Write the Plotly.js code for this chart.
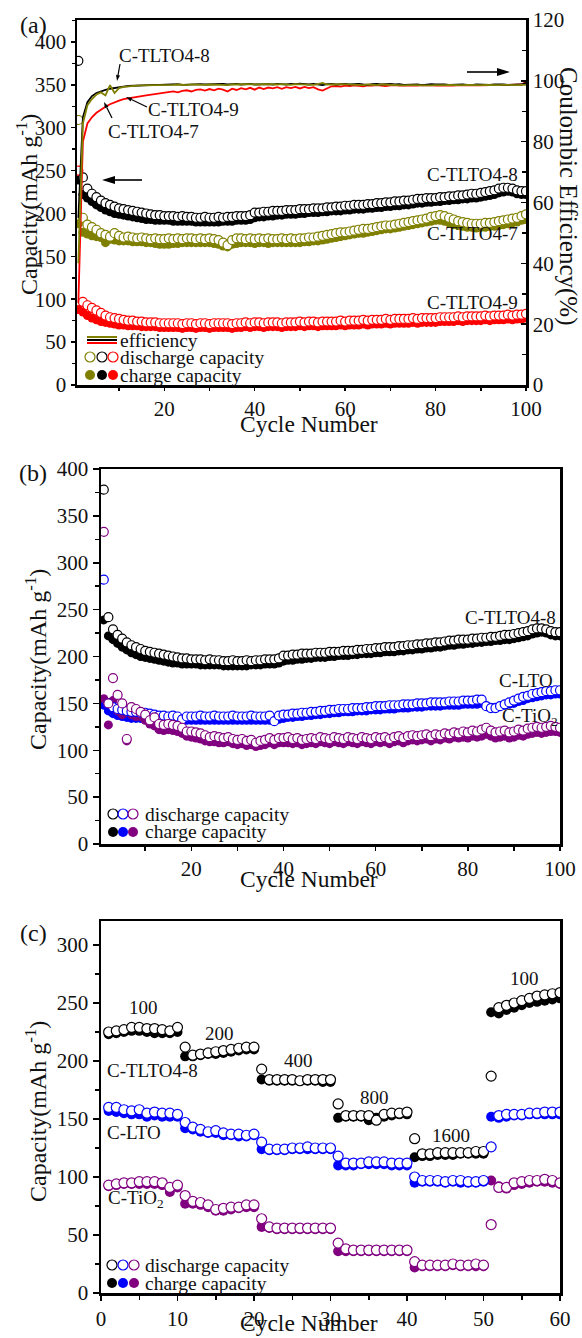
<!DOCTYPE html>
<html><head><meta charset="utf-8">
<script src="https://cdn.plot.ly/plotly-3.0.1.min.js"></script>
<style>html,body{margin:0;padding:0;background:#fff;}#chart{width:582px;height:1338px;}</style>
</head><body><div id="chart"></div>
<script>
// ---------- DATA ----------
const cycles100 = [1,2,3,4,5,6,7,8,9,10,11,12,13,14,15,16,17,18,19,20,
21,22,23,24,25,26,27,28,29,30,31,32,33,34,35,36,37,38,39,40,
41,42,43,44,45,46,47,48,49,50,51,52,53,54,55,56,57,58,59,60,
61,62,63,64,65,66,67,68,69,70,71,72,73,74,75,76,77,78,79,80,
81,82,83,84,85,86,87,88,89,90,91,92,93,94,95,96,97,98,99,100];
const cycles60 = [1,2,3,4,5,6,7,8,9,10,11,12,13,14,15,16,17,18,19,20,
21,22,23,24,25,26,27,28,29,30,31,32,33,34,35,36,37,38,39,40,
41,42,43,44,45,46,47,48,49,50,51,52,53,54,55,56,57,58,59,60];

// C-TLTO4-8 (panels a and b)
const dis_TLTO48 = [378,242,229,223,219,215,212,210,208,206,
205,204,203,202,201,200,199,198,198,197,
197,197,196,197,196,196,195,195,196,195,
195,196,195,196,196,197,197,197,198,201,
201,202,202,203,203,203,204,204,204,205,
205,205,206,206,206,207,207,208,208,209,
209,210,210,210,211,211,212,212,213,213,
214,214,215,215,216,217,217,218,218,218,
219,219,220,220,221,221,222,223,223,224,
225,226,227,229,230,230,229,227,226,226];
const chg_TLTO48 = [239,222,218,214,210,207,204,202,200,199,
198,197,196,195,194,193,193,192,192,192,
192,191,191,191,191,191,190,190,190,190,
190,190,191,191,191,192,192,192,193,195,
196,196,197,197,198,198,199,199,199,200,
200,201,201,201,202,202,203,203,203,204,
204,205,205,205,206,206,207,207,208,208,
209,209,210,210,211,212,212,213,213,214,
214,215,215,216,216,217,217,218,218,219,
220,221,222,224,225,226,225,223,222,222];
// C-TLTO4-7
const dis_TLTO47 = [309,195,187,184,181,177,175,173,177,174,
172,173,172,171,172,171,170,171,170,170,
171,170,171,170,171,171,170,171,170,171,
170,169,166,163,169,171,171,170,171,170,
171,170,171,170,170,171,170,171,170,171,
171,172,172,173,174,175,176,177,178,178,
179,180,181,182,182,183,184,185,186,186,
187,188,189,190,191,192,193,194,196,197,
198,197,195,193,191,190,189,188,188,188,
189,189,190,191,192,193,194,195,197,199];
const chg_TLTO47 = [188,178,176,174,173,172,166,170,169,168,
168,168,167,167,167,166,166,165,164,164,
164,165,165,166,166,166,166,166,166,166,
165,164,162,161,164,165,166,166,166,165,
166,166,165,166,166,166,166,166,166,166,
167,167,168,168,169,170,171,172,173,174,
175,176,177,177,178,179,180,181,182,182,
183,184,185,186,187,188,189,190,191,192,
192,191,189,187,186,185,184,184,183,184,
184,185,185,186,187,188,189,190,192,193];
// C-TLTO4-9
const dis_TLTO49 = [250,97,93,90,87,84,81,79,78,77,
76,75,75,74,74,73,73,73,72,72,
72,72,72,71,72,72,71,72,72,71,
72,72,72,72,71,72,72,73,72,73,
73,72,73,73,73,72,73,73,73,74,
73,74,74,73,74,74,74,74,75,74,
75,75,75,76,75,76,76,76,77,76,
77,77,77,77,78,77,78,78,78,78,
79,79,79,79,80,79,80,80,80,80,
81,80,81,81,81,82,81,82,82,83];
const chg_TLTO49 = [88,85,81,78,76,74,73,72,71,70,
70,69,69,69,68,68,68,68,67,67,
67,67,67,66,67,67,66,67,67,66,
67,67,67,67,66,67,67,68,67,68,
68,67,68,68,68,67,68,68,68,69,
68,69,69,68,69,69,69,69,70,69,
70,70,70,71,70,71,71,71,72,71,
72,72,72,72,73,72,73,73,73,73,
74,74,74,74,75,74,75,75,75,75,
76,75,76,76,76,77,76,77,77,78];
// Coulombic efficiency (%)
const eff_TLTO48 = [55,88,93,95,96,96.6,97,97.4,97.7,98,
98.1,98.3,98.4,98.5,98.5,98.6,98.6,98.7,98.7,98.8,
98.7,98.8,98.9,98.7,98.8,98.9,98.8,98.9,98.8,98.9,
98.8,98.9,99,98.8,98.9,99,98.8,98.9,99,98.8,
98.9,99,98.9,98.8,99,98.9,98.8,99,98.9,99.1,
98.9,98.8,99,98.9,98.6,98.9,99,98.8,98.9,99,
98.8,98.9,99,98.8,98.7,98.9,99,98.8,98.9,99,
98.8,98.9,98.7,98.8,98.9,98.8,98.6,98.8,98.9,98.8,
98.9,98.8,98.7,98.8,98.9,98.8,98.7,98.6,98.8,98.7,
98.8,98.7,98.8,98.9,98.8,98.7,98.8,98.9,98.8,99.3];
const eff_TLTO47 = [40,86,92,94,95.5,96.2,95.2,98.6,96,97.6,
98,98.2,98.3,98.4,98.5,98.5,98.6,98.6,98.7,98.7,
98.6,98.7,98.8,98.7,98.6,98.8,98.7,98.8,98.7,98.8,
98.7,98.8,98.7,98.6,98.8,98.7,98.8,98.9,98.8,98.7,
98.8,98.9,98.8,98.7,98.8,98.9,98.8,98.7,98.9,98.8,
98.9,98.8,98.7,98.9,99.3,98.8,98.7,98.8,98.9,98.8,
98.7,98.8,98.7,98.6,98.8,98.7,98.6,98.8,98.7,98.6,
98.7,98.6,98.5,98.6,98.7,98.6,98.5,98.4,98.5,98.6,
98.5,98.6,98.7,98.6,98.5,98.6,98.7,98.6,98.5,98.6,
98.7,98.6,98.7,98.6,98.7,98.6,98.7,98.6,98.7,98.7];
const eff_TLTO49 = [27,80,86,88,89.5,90.6,91.5,92.3,93,93.5,
94,94.3,94.6,94.8,95,95.2,95.4,95.6,95.8,96,
96.3,96.5,96.2,96.7,96.9,96.5,97,97.2,96.8,97.3,
96.9,97.4,97.1,96.5,97.4,97,97.6,97.2,97.7,97.1,
97.8,97.3,97.8,97.5,97.9,97.4,97.9,97.6,98,97.5,
98,97.6,97.9,97.2,96.8,97.6,98.2,98.3,98.1,98.4,
98.3,98.5,98.4,98.2,98.5,98.4,98.6,98.5,98.3,98.5,
98.6,98.4,98.5,98.6,98.5,98.4,98.6,98.5,98.6,98.4,
98.5,98.6,98.5,98.4,98.6,98.5,98.6,98.5,98.6,98.5,
98.6,98.5,98.6,98.7,98.6,98.7,98.6,98.7,98.8,99.6];

// C-LTO (panel b)
const dis_LTO = [282,150,146,144,143,142,141,141,140,140,
139,138,137,137,136,137,136,133,136,136,
136,137,136,136,137,136,136,136,137,136,
136,136,137,136,136,136,137,131,137,138,
138,139,139,140,140,141,141,142,142,143,
143,144,144,144,145,145,145,146,146,147,
147,147,148,148,148,149,149,149,150,150,
150,151,151,151,151,152,152,152,153,153,
153,154,154,147,145,145,147,149,151,153,
155,157,158,160,161,162,163,163,164,164];
const chg_LTO = [148,142,139,137,136,135,134,134,134,133,
133,133,132,132,132,132,132,131,132,132,
132,132,132,132,132,132,132,132,132,132,
132,132,132,132,132,132,132,131,133,134,
135,135,136,136,137,137,138,138,139,139,
140,140,141,141,141,142,142,142,143,143,
143,144,144,144,145,145,145,146,146,146,
147,147,147,147,148,148,148,148,149,149,
149,149,150,147,146,146,147,148,149,150,
152,153,155,156,157,158,159,159,160,160];
// C-TiO2 (panel b)
const dis_TiO2 = [333,150,177,159,150,112,146,144,141,138,
132,135,128,127,128,127,126,124,120,120,
119,118,116,114,115,114,113,114,112,111,
112,110,111,108,110,111,113,111,113,113,
114,112,113,111,112,113,112,114,113,112,
114,113,112,114,113,112,114,113,112,114,
113,114,112,114,115,113,115,116,115,116,
117,115,117,116,118,117,119,118,120,119,
121,120,122,124,121,119,120,121,119,120,
122,121,123,124,125,124,125,126,125,124];
const chg_TiO2 = [155,127,153,142,138,110,138,136,136,132,
128,126,122,121,122,121,120,118,115,114,
113,112,110,109,109,108,108,109,107,106,
107,105,106,104,105,106,108,106,108,108,
108,107,108,106,107,108,107,109,108,107,
109,108,107,109,108,107,109,108,107,109,
108,109,107,109,110,108,110,111,110,111,
112,110,112,111,113,112,114,113,114,113,
115,114,115,117,115,113,114,115,113,114,
116,115,117,118,119,118,119,120,120,119];

// Rate performance (panel c)
const rateLabels = ['100','200','400','800','1600','100'];
const rdis_TLTO48 = [225,226,227,229,229,228,228,227,226,229,
212,205,206,207,208,209,210,211,212,212,
193,184,184,184,184,183,184,184,184,184,
163,153,153,153,153,149,154,155,155,156,
133,120,120,121,121,121,121,121,122,122,
187,246,248,250,252,254,256,257,258,259];
const rchg_TLTO48 = [223,224,225,226,226,225,224,224,224,225,
204,204,205,206,206,207,208,209,210,210,
184,183,183,183,183,183,183,183,182,182,
151,152,152,152,149,151,152,153,154,154,
117,118,118,119,119,119,120,120,120,120,
242,241,244,246,248,250,251,252,253,254];
const rdis_LTO = [160,160,158,157,158,155,156,155,155,154,
147,143,141,139,140,138,137,137,136,137,
130,124,124,124,125,125,126,125,125,125,
118,112,112,112,113,113,113,112,112,112,
100,97,97,97,96,97,97,96,96,97,
126,153,154,154,154,155,155,156,156,156];
const rchg_LTO = [157,156,155,154,154,152,153,152,152,152,
142,141,139,138,138,136,136,135,135,136,
124,123,123,123,124,124,124,124,124,124,
110,110,110,111,111,111,111,110,110,110,
95,96,96,96,95,96,95,95,95,96,
152,151,152,153,153,154,154,154,154,154];
const rdis_TiO2 = [93,94,95,95,96,96,96,95,91,93,
84,79,78,76,72,73,74,74,76,76,
64,57,56,56,56,56,56,56,56,56,
43,38,37,37,37,37,37,37,37,37,
27,24,24,24,24,25,24,24,25,24,
59,91,91,95,96,97,97,98,97,95];
const rchg_TiO2 = [92,93,94,94,94,94,94,93,87,91,
77,77,76,74,71,71,72,73,74,74,
57,56,55,55,55,55,55,55,55,55,
36,36,36,36,36,36,36,36,36,36,
22,23,23,23,23,24,23,23,23,23,
97,92,90,93,94,95,96,96,95,94];

// ---------- STYLE ----------
const W = 582, H = 1338;
const px = x => x / W, py = y => 1 - y / H;
const OLIVE = '#808000', RED = '#ff0000', BLACK = '#000000', BLUE = '#0000ff', PURPLE = '#800080';
const FONT = 'Liberation Serif, Times New Roman, serif';

function filledT(x, y, color, xa, ya, size) {
  return {x: x, y: y, xaxis: xa, yaxis: ya, type: 'scatter', mode: 'markers', hoverinfo: 'skip',
    marker: {symbol: 'circle', size: size, color: color, line: {width: 0}}};
}
function openT(x, y, color, xa, ya, size) {
  return {x: x, y: y, xaxis: xa, yaxis: ya, type: 'scatter', mode: 'markers', hoverinfo: 'skip',
    marker: {symbol: 'circle', size: size, color: '#ffffff', line: {width: 1.2, color: color}}};
}
function lineT(x, y, color, xa, ya) {
  return {x: x, y: y, xaxis: xa, yaxis: ya, type: 'scatter', mode: 'lines', hoverinfo: 'skip',
    line: {color: color, width: 1.8}};
}

const traces = [
  // panel a
  filledT(cycles100, chg_TLTO47, OLIVE, 'x', 'y', 9),
  filledT(cycles100, chg_TLTO48, BLACK, 'x', 'y', 9),
  filledT(cycles100, chg_TLTO49, RED, 'x', 'y', 9),
  openT(cycles100, dis_TLTO47, OLIVE, 'x', 'y', 9),
  openT(cycles100, dis_TLTO48, BLACK, 'x', 'y', 9),
  openT(cycles100, dis_TLTO49, RED, 'x', 'y', 9),
  lineT(cycles100, eff_TLTO49, RED, 'x', 'y4'),
  lineT(cycles100, eff_TLTO48, BLACK, 'x', 'y4'),
  lineT(cycles100, eff_TLTO47, OLIVE, 'x', 'y4'),
  // panel b
  filledT(cycles100, chg_TLTO48, BLACK, 'x2', 'y2', 9),
  filledT(cycles100, chg_LTO, BLUE, 'x2', 'y2', 9),
  filledT(cycles100, chg_TiO2, PURPLE, 'x2', 'y2', 9),
  openT(cycles100, dis_TLTO48, BLACK, 'x2', 'y2', 9),
  openT(cycles100, dis_LTO, BLUE, 'x2', 'y2', 9),
  openT(cycles100, dis_TiO2, PURPLE, 'x2', 'y2', 9),
  // panel c
  filledT(cycles60, rchg_TLTO48, BLACK, 'x3', 'y3', 10),
  filledT(cycles60, rchg_LTO, BLUE, 'x3', 'y3', 10),
  filledT(cycles60, rchg_TiO2, PURPLE, 'x3', 'y3', 10),
  openT(cycles60, rdis_TLTO48, BLACK, 'x3', 'y3', 10),
  openT(cycles60, rdis_LTO, BLUE, 'x3', 'y3', 10),
  openT(cycles60, rdis_TiO2, PURPLE, 'x3', 'y3', 10)
];

const tickFont = {family: FONT, size: 21, color: '#111'};
function ax(extra) {
  return Object.assign({showline: true, linecolor: '#000', linewidth: 2.5, ticks: 'outside', ticklen: 5,
    tickwidth: 1.5, tickcolor: '#000', tickfont: tickFont, showgrid: false, zeroline: false,
    fixedrange: true, tickmode: 'linear'}, extra);
}

function ann(text, x, y, size, xanchor, extra) {
  return Object.assign({text: text, xref: 'paper', yref: 'paper', x: px(x), y: py(y), xanchor: xanchor || 'center',
    yanchor: 'middle', showarrow: false, font: {family: FONT, size: size, color: '#111'}}, extra || {});
}
// arrow drawn as a line + filled triangular head (pixel geometry converted to paper units)
function arrowShapes(hx, hy, tx, ty, L, Wd, lw) {
  const dx = hx - tx, dy = hy - ty, len = Math.hypot(dx, dy);
  const ux = dx / len, uy = dy / len;
  const bx = hx - ux * L, by = hy - uy * L;
  const nx = -uy, ny = ux;
  const p1x = bx + nx * Wd / 2, p1y = by + ny * Wd / 2, p2x = bx - nx * Wd / 2, p2y = by - ny * Wd / 2;
  return [
    {type: 'line', xref: 'paper', yref: 'paper', x0: px(tx), y0: py(ty), x1: px(bx), y1: py(by), line: {color: '#000', width: lw}},
    {type: 'path', xref: 'paper', yref: 'paper', fillcolor: '#000', line: {width: 0},
      path: 'M ' + px(hx) + ' ' + py(hy) + ' L ' + px(p1x) + ' ' + py(p1y) + ' L ' + px(p2x) + ' ' + py(p2y) + ' Z'}
  ];
}
function circ(cx, cy, color, fill, r) {
  r = r || 5;
  return {type: 'circle', xref: 'paper', yref: 'paper', xsizemode: 'pixel', ysizemode: 'pixel',
    xanchor: px(cx), yanchor: py(cy), x0: -r, x1: r, y0: -r, y1: r,
    line: {color: color, width: fill ? 0 : 1.2}, fillcolor: fill ? color : 'rgba(0,0,0,0)'};
}
function hline(x0, x1, y, color) {
  return {type: 'line', xref: 'paper', yref: 'paper', x0: px(x0), x1: px(x1), y0: py(y), y1: py(y),
    line: {color: color, width: 2}};
}

const annotations = [
  // panel letters
  ann('(a)', 33, 25, 24), ann('(b)', 33, 473, 24), ann('(c)', 33, 933, 24),
  // axis titles
  ann('Capacity(mAh g<sup>-1</sup>)', 27, 205, 24, 'center', {textangle: -90}),
  ann('Coulombic Efficiency(%)', 568, 196, 25, 'center', {textangle: 90}),
  ann('Capacity(mAh g<sup>-1</sup>)', 36, 660, 24, 'center', {textangle: -90}),
  ann('Capacity(mAh g<sup>-1</sup>)', 36, 1112, 24, 'center', {textangle: -90}),
  ann('Cycle Number', 309, 424, 23.5), ann('Cycle Number', 309, 879, 23.5),
  ann('Cycle Number', 309, 1338, 23.5, 'center', {yanchor: 'bottom'}),
  // panel a labels
  ann('C-TLTO4-8', 164, 55, 19), ann('C-TLTO4-9', 193, 110, 19), ann('C-TLTO4-7', 153, 132, 19),
  ann('C-TLTO4-8', 520, 175, 19, 'right'), ann('C-TLTO4-7', 520, 233, 19, 'right'), ann('C-TLTO4-9', 520, 302, 19, 'right'),
  // panel a legend
  ann('efficiency', 118, 340, 19.5, 'left'), ann('discharge capacity', 118, 357, 19.5, 'left'), ann('charge capacity', 118, 375, 19.5, 'left'),
  // panel b labels
  ann('C-TLTO4-8', 558, 617, 19, 'right'), ann('C-LTO', 555, 680, 19, 'right'), ann('C-TiO<sub>2</sub>', 560, 717, 19, 'right'),
  ann('discharge capacity', 143, 814, 19.5, 'left'), ann('charge capacity', 143, 832, 19.5, 'left'),
  // panel c labels
  ann(rateLabels[0], 143, 1008, 19), ann(rateLabels[1], 219, 1033, 19), ann(rateLabels[2], 298, 1060, 19),
  ann(rateLabels[3], 374, 1097, 19), ann(rateLabels[4], 451, 1135, 19), ann(rateLabels[5], 524, 978, 19),
  ann('C-TLTO4-8', 105, 1070, 19, 'left'), ann('C-LTO', 105, 1132, 19, 'left'), ann('C-TiO<sub>2</sub>', 106, 1199, 19, 'left'),
  ann('discharge capacity', 143, 1265, 19.5, 'left'), ann('charge capacity', 143, 1283, 19.5, 'left')
];

const shapes = [].concat(
  arrowShapes(117, 81, 120, 64, 6, 4, 1.2),
  arrowShapes(126, 97, 147, 107, 6, 4, 1.2),
  arrowShapes(104, 102, 112, 118, 6, 4, 1.2),
  arrowShapes(102, 180, 142, 180, 13, 8, 1.6),
  arrowShapes(510, 72, 467, 72, 13, 8, 1.6),
  [
    hline(87, 117, 337, OLIVE), hline(87, 117, 340, BLACK), hline(87, 117, 343, RED),
    circ(90, 357, OLIVE, false), circ(102, 357, BLACK, false), circ(113, 357, RED, false),
    circ(90, 375, OLIVE, true), circ(102, 375, BLACK, true), circ(113, 375, RED, true),
    circ(113, 814, BLACK, false), circ(123, 814, BLUE, false), circ(133, 814, PURPLE, false),
    circ(113, 832, BLACK, true), circ(123, 832, BLUE, true), circ(133, 832, PURPLE, true),
    circ(112, 1265, BLACK, false), circ(123, 1265, BLUE, false), circ(134, 1265, PURPLE, false),
    circ(112, 1283, BLACK, true), circ(123, 1283, BLUE, true), circ(134, 1283, PURPLE, true)
  ]
);

const minorOut = (len) => ({ticks: 'outside', ticklen: len, tickwidth: 1.5, tickcolor: '#000'});
const layout = {
  width: W, height: H, margin: {l: 0, r: 0, t: 0, b: 0}, paper_bgcolor: '#fff', plot_bgcolor: '#fff',
  showlegend: false, font: {family: FONT, color: '#111'},
  xaxis: ax({domain: [px(77), px(526)], anchor: 'y', range: [0.7, 100], tick0: 0, dtick: 20, ticklen: 3, mirror: true,
    minor: Object.assign({dtick: 10}, minorOut(3))}),
  yaxis: ax({domain: [py(385), py(20)], anchor: 'x', range: [0, 425.6], tick0: 0, dtick: 50, ticklen: 4,
    minor: Object.assign({dtick: 25}, minorOut(3))}),
  yaxis4: ax({overlaying: 'y', side: 'right', anchor: 'x', range: [0, 120], tick0: 0, dtick: 20, ticks: 'inside', ticklen: 5,
    minor: {dtick: 10, ticks: 'inside', ticklen: 4, tickwidth: 1.5, tickcolor: '#000'}}),
  xaxis2: ax({domain: [px(101), px(560)], anchor: 'y2', range: [0.4, 100], tick0: 0, dtick: 20, ticklen: 4, mirror: true,
    minor: Object.assign({dtick: 10}, minorOut(4))}),
  yaxis2: ax({domain: [py(844), py(469)], anchor: 'x2', range: [0, 400], tick0: 0, dtick: 50, ticklen: 6, mirror: true,
    minor: Object.assign({dtick: 25}, minorOut(4))}),
  xaxis3: ax({domain: [px(101), px(560)], anchor: 'y3', range: [0, 60], tick0: 0, dtick: 10, ticklen: 5, mirror: true,
    minor: Object.assign({dtick: 5}, minorOut(4))}),
  yaxis3: ax({domain: [py(1293), py(921)], anchor: 'x3', range: [0, 320.7], tick0: 0, dtick: 50, ticklen: 6, mirror: true,
    minor: Object.assign({dtick: 25}, minorOut(4))}),
  annotations: annotations,
  shapes: shapes
};

Plotly.newPlot('chart', traces, layout, {staticPlot: true, displayModeBar: false});
</script>
</body></html>
